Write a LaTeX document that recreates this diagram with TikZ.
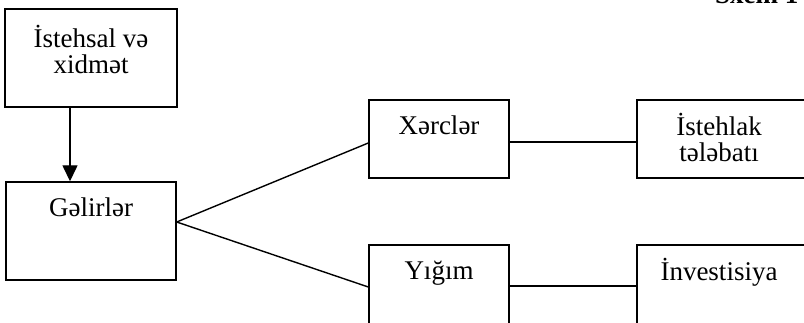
\documentclass[tikz,border=0pt]{standalone}
\usepackage{fontspec}
\setmainfont{Liberation Serif}
\usetikzlibrary{arrows.meta}
\begin{document}
\begin{tikzpicture}[x=1pt,y=1pt,
    box/.style={draw,line width=1.4pt,inner sep=0pt},
    txt/.style={font=\fontsize{27}{26}\selectfont,align=center,inner sep=0pt,anchor=base}]
      \useasboundingbox (0,0) rectangle (804,-323);
      \clip (0,0) rectangle (804,-323);
      \node[box,minimum width=172,minimum height=98] (prod) at (91,-58) {};
      \node[box,minimum width=170,minimum height=98] (gelir) at (91,-231) {};
      \node[box,minimum width=140,minimum height=78] (xerc) at (439,-139) {};
      \node[box,minimum width=175,minimum height=78] (istehlak) at (724.5,-139) {};
      \node[box,minimum width=140,minimum height=80] (yigim) at (439,-285) {};
      \node[box,minimum width=175,minimum height=80] (invest) at (724.5,-285) {};
      % two-line texts sit on the base of their last line
      \node[txt] (t0) at (91,-74) {İstehsal və\\xidmət};
      \node[txt] (t1) at (91,-217) {Gəlirlər};
      \node[txt] (t2) at (439,-135) {Xərclər};
      \node[txt] (t3) at (719,-162) {İstehlak\\tələbatı};
      \node[txt] (t4) at (439,-280) {Yığım};
      \node[txt] (t5) at (719,-281) {İnvestisiya};
      \node[txt,font=\fontsize{27}{26}\selectfont\bfseries,anchor=base west] (title) at (715,-4) {Sxem 1};
      \coordinate (split) at ([yshift=9]gelir.east);
      \begin{scope}[line width=1.4pt]
        \draw[-{Triangle[length=16pt,width=15pt]}] ([xshift=-21]prod.south) -- ([xshift=-21]gelir.north);
        \draw (split) -- ([yshift=-4]xerc.west);
        \draw (split) -- ([yshift=-2]yigim.west);
        \draw ([yshift=-3]xerc.east) -- ([yshift=-3]xerc.east -| istehlak.west);
        \draw ([yshift=-1]yigim.east) -- ([yshift=-1]yigim.east -| invest.west);
      \end{scope}
    \end{tikzpicture}
\end{document}
